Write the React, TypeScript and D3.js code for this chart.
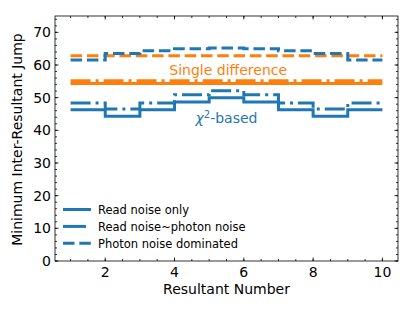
import React from "react";
import * as d3 from "d3";

// resultant index along x
const resultants = [1, 2, 3, 4, 5, 6, 7, 8, 9, 10];

// chi^2-based thresholds (blue)
const chiReadNoise = [46.3, 44.3, 46.3, 48.7, 50.0, 48.7, 46.3, 44.3, 46.3, 46.3];
const chiMixed = [48.4, 46.5, 48.4, 50.9, 52.1, 50.9, 48.4, 46.5, 48.4, 48.4];
const chiPhoton = [61.5, 63.5, 64.4, 65.0, 65.2, 65.0, 64.4, 63.5, 61.5, 61.5];

// single difference thresholds (orange)
const sdReadNoise = [54.3, 54.3, 54.3, 54.3, 54.3, 54.3, 54.3, 54.3, 54.3, 54.3];
const sdMixed = [55.2, 55.2, 55.2, 55.2, 55.2, 55.2, 55.2, 55.2, 55.2, 55.2];
const sdPhoton = [62.8, 62.8, 62.8, 62.8, 62.8, 62.8, 62.8, 62.8, 62.8, 62.8];

const legendLabels = ["Read noise only", "Read noise~photon noise", "Photon noise dominated"];
const xTicks = [2, 4, 6, 8, 10];
const yTicks = [0, 10, 20, 30, 40, 50, 60, 70];

const BLUE = "#1f77b4";
const ORANGE = "#ff7f0e";
const LW = 3;
const dashes = ["none", "20,5,3,5", "11.5,4.8"];
// legend handles are short, only the first dash of dash-dot shows
const legendDashes = ["none", "23,20", "11.5,4.8"];

export default function App() {
  const width = 415,
    height = 311;
  const margin = { left: 55, right: 17, top: 16, bottom: 50 };
  const font = "DejaVu Sans, sans-serif";

  const x = d3
    .scaleLinear()
    .domain([0.55, 10.45])
    .range([margin.left, width - margin.right]);
  const y = d3
    .scaleLinear()
    .domain([0, 75])
    .range([height - margin.bottom, margin.top]);

  const line = d3
    .line<number>()
    .x((d, i) => x(resultants[i]))
    .y((d) => y(d))
    .curve(d3.curveStepAfter);

  const series = [
    { data: sdReadNoise, color: ORANGE, dash: dashes[0] },
    { data: sdMixed, color: ORANGE, dash: dashes[1] },
    { data: sdPhoton, color: ORANGE, dash: dashes[2] },
    { data: chiReadNoise, color: BLUE, dash: dashes[0] },
    { data: chiMixed, color: BLUE, dash: dashes[1] },
    { data: chiPhoton, color: BLUE, dash: dashes[2] },
  ];

  const [x0, x1] = x.range();
  const [yb, yt] = y.range();
  const xMinor = d3.range(1, 10.01, 0.5);
  const yMinor = d3.range(0, 75.01, 2);

  return (
    <svg width={width} height={height} style={{ position: "absolute", left: 0, top: 0 }}>
      <rect width={width} height={height} fill="white" />
      <defs>
        <clipPath id="plot">
          <rect x={x0} y={yt} width={x1 - x0} height={yb - yt} />
        </clipPath>
      </defs>
      <g clipPath="url(#plot)">
        {series.map((s, i) => (
          <path
            key={i}
            d={line(s.data) || ""}
            fill="none"
            stroke={s.color}
            strokeWidth={LW}
            strokeDasharray={s.dash}
          />
        ))}
      </g>

      {/* ticks, pointing inward on all sides */}
      <g stroke="black" strokeWidth={0.8}>
        {xMinor.map((t) => (
          <g key={"xm" + t}>
            <line x1={x(t)} x2={x(t)} y1={yb} y2={yb - 2} />
            <line x1={x(t)} x2={x(t)} y1={yt} y2={yt + 2} />
          </g>
        ))}
        {xTicks.map((t) => (
          <g key={"x" + t}>
            <line x1={x(t)} x2={x(t)} y1={yb} y2={yb - 3.5} />
            <line x1={x(t)} x2={x(t)} y1={yt} y2={yt + 3.5} />
          </g>
        ))}
        {yMinor.map((t) => (
          <g key={"ym" + t}>
            <line x1={x0} x2={x0 + 2} y1={y(t)} y2={y(t)} />
            <line x1={x1} x2={x1 - 2} y1={y(t)} y2={y(t)} />
          </g>
        ))}
        {yTicks.map((t) => (
          <g key={"y" + t}>
            <line x1={x0} x2={x0 + 3.5} y1={y(t)} y2={y(t)} />
            <line x1={x1} x2={x1 - 3.5} y1={y(t)} y2={y(t)} />
          </g>
        ))}
      </g>
      <rect x={x0} y={yt} width={x1 - x0} height={yb - yt} fill="none" stroke="black" strokeWidth={0.8} />

      <g fontFamily={font} fontSize={14}>
        {xTicks.map((t) => (
          <text key={"xl" + t} x={x(t)} y={yb + 16} textAnchor="middle">
            {t}
          </text>
        ))}
        {yTicks.map((t) => (
          <text key={"yl" + t} x={x0 - 4} y={y(t) + 5} textAnchor="end">
            {t}
          </text>
        ))}
        <text x={(x0 + x1) / 2} y={yb + 33} textAnchor="middle">
          Resultant Number
        </text>
        <text transform={`translate(22,${(yt + yb) / 2 + 1}) rotate(-90)`} textAnchor="middle">
          Minimum Inter-Resultant Jump
        </text>
        <text x={x(5.55)} y={y(57)} textAnchor="middle" fill={ORANGE}>
          Single difference
        </text>
        <text x={x(5.5)} y={y(42.1)} textAnchor="middle" fill={BLUE}>
          <tspan fontStyle="italic">χ</tspan>
          <tspan fontSize={10} dy={-5}>2</tspan>
          <tspan dy={5}>-based</tspan>
        </text>
      </g>

      <g fontFamily={font} fontSize={11.5}>
        {legendLabels.map((lab, i) => {
          const ly = 209.5 + i * 16.9;
          return (
            <g key={lab}>
              <line
                x1={63}
                x2={91}
                y1={ly}
                y2={ly}
                stroke={BLUE}
                strokeWidth={LW}
                strokeDasharray={legendDashes[i]}
              />
              <text x={98} y={ly + 4.2}>
                {lab}
              </text>
            </g>
          );
        })}
      </g>
    </svg>
  );
}
